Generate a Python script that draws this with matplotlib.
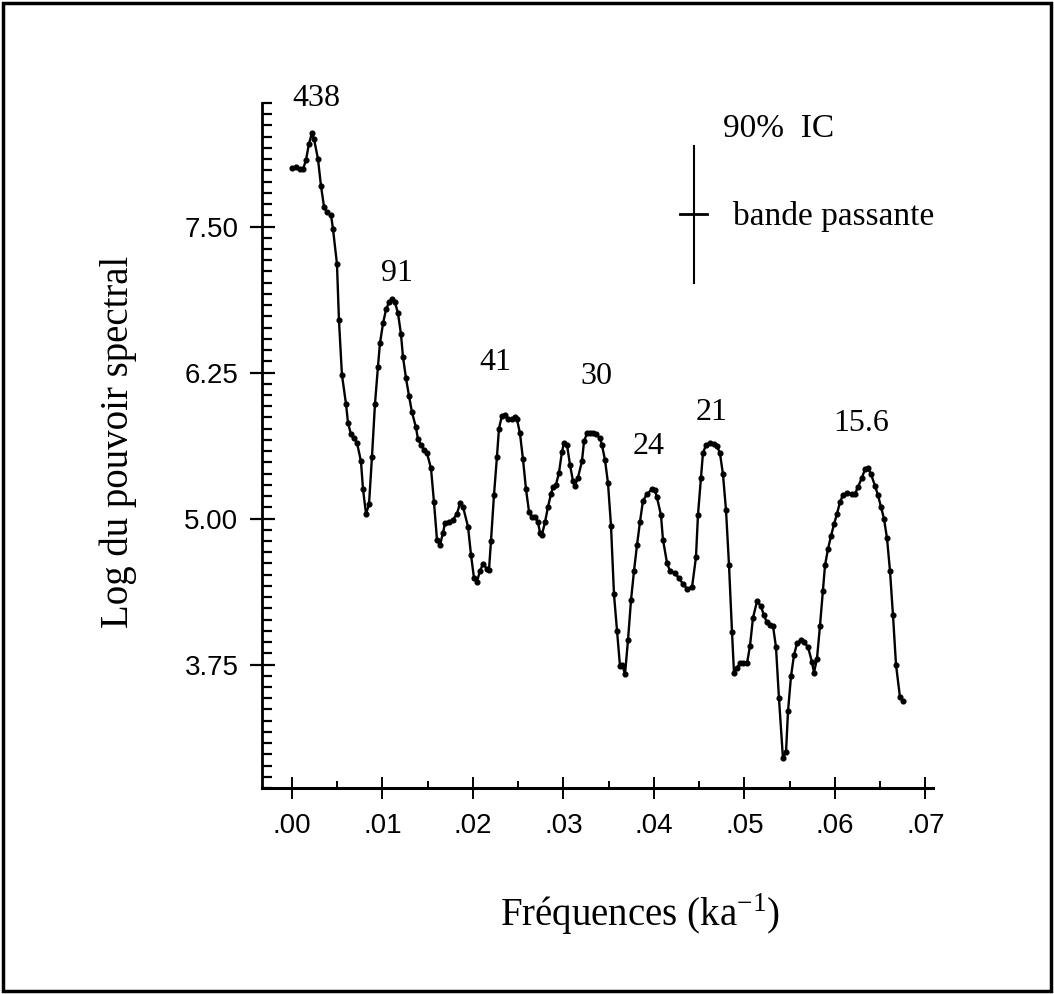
import matplotlib.pyplot as plt
import numpy as np
from matplotlib.ticker import MultipleLocator, FixedLocator
from matplotlib.patches import Rectangle

# spectre (fréquence en ka-1, log du pouvoir spectral)
freq = [0.0, 0.00044, 0.00088, 0.00122, 0.00155, 0.00188, 0.00221, 0.00243, 0.00287, 0.00320,
        0.00354, 0.00387, 0.00431, 0.00453, 0.00497, 0.00519, 0.00552, 0.00597, 0.00619, 0.00652,
        0.00685, 0.00718, 0.00762, 0.00785, 0.00818, 0.00851, 0.00884, 0.00917, 0.00950, 0.00972,
        0.01006, 0.01039, 0.01072, 0.01105, 0.01138, 0.01171, 0.01204, 0.01227, 0.01260, 0.01293,
        0.01326, 0.01370, 0.01392, 0.01425, 0.01459, 0.01492, 0.01536, 0.01569, 0.01602, 0.01635,
        0.01669, 0.01691, 0.01735, 0.01779, 0.01823, 0.01856, 0.01890, 0.01945, 0.01978, 0.02011,
        0.02044, 0.02077, 0.02110, 0.02155, 0.02177, 0.02199, 0.02232, 0.02265, 0.02287, 0.02320,
        0.02354, 0.02387, 0.02431, 0.02464, 0.02486, 0.02519, 0.02552, 0.02586, 0.02619, 0.02652,
        0.02685, 0.02718, 0.02740, 0.02762, 0.02796, 0.02829, 0.02862, 0.02884, 0.02917, 0.02950,
        0.02983, 0.03006, 0.03039, 0.03072, 0.03105, 0.03127, 0.03160, 0.03204, 0.03227, 0.03260,
        0.03293, 0.03326, 0.03359, 0.03403, 0.03425, 0.03459, 0.03492, 0.03525, 0.03558, 0.03591,
        0.03624, 0.03646, 0.03680, 0.03713, 0.03746, 0.03779, 0.03812, 0.03845, 0.03878, 0.03923,
        0.03978, 0.04011, 0.04033, 0.04077, 0.04099, 0.04144, 0.04177, 0.04232, 0.04276, 0.04320,
        0.04365, 0.04420, 0.04464, 0.04486, 0.04519, 0.04541, 0.04575, 0.04619, 0.04663, 0.04696,
        0.04729, 0.04762, 0.04796, 0.04829, 0.04862, 0.04884, 0.04917, 0.04950, 0.04983, 0.05028,
        0.05061, 0.05094, 0.05138, 0.05182, 0.05215, 0.05249, 0.05282, 0.05315, 0.05348, 0.05381,
        0.05425, 0.05459, 0.05481, 0.05514, 0.05547, 0.05580, 0.05624, 0.05657, 0.05702, 0.05746,
        0.05768, 0.05801, 0.05834, 0.05867, 0.05890, 0.05923, 0.05956, 0.05989, 0.06022, 0.06055,
        0.06088, 0.06133, 0.06188, 0.06221, 0.06254, 0.06298, 0.06331, 0.06365, 0.06398, 0.06442,
        0.06475, 0.06508, 0.06541, 0.06575, 0.06608, 0.06641, 0.06674, 0.06718, 0.06751]

log_power = [8.00, 8.01, 7.99, 7.99, 8.07, 8.21, 8.30, 8.25, 8.08, 7.85,
             7.67, 7.62, 7.60, 7.48, 7.18, 6.70, 6.23, 5.98, 5.82, 5.72,
             5.69, 5.65, 5.49, 5.25, 5.04, 5.12, 5.53, 5.98, 6.30, 6.50,
             6.67, 6.79, 6.85, 6.88, 6.85, 6.76, 6.58, 6.38, 6.20, 6.05,
             5.91, 5.78, 5.68, 5.63, 5.59, 5.56, 5.43, 5.14, 4.82, 4.77,
             4.88, 4.96, 4.97, 4.99, 5.04, 5.13, 5.10, 4.93, 4.69, 4.49,
             4.46, 4.55, 4.61, 4.57, 4.56, 4.81, 5.20, 5.53, 5.77, 5.88,
             5.89, 5.85, 5.85, 5.87, 5.85, 5.73, 5.51, 5.25, 5.06, 5.01,
             5.01, 4.97, 4.88, 4.86, 4.97, 5.10, 5.21, 5.27, 5.29, 5.39,
             5.57, 5.65, 5.63, 5.46, 5.32, 5.28, 5.35, 5.49, 5.66, 5.73,
             5.73, 5.73, 5.72, 5.69, 5.63, 5.50, 5.30, 4.94, 4.35, 4.04,
             3.74, 3.75, 3.67, 3.96, 4.30, 4.55, 4.77, 4.97, 5.15, 5.21,
             5.25, 5.24, 5.18, 5.03, 4.82, 4.62, 4.55, 4.53, 4.49, 4.44,
             4.40, 4.41, 4.67, 5.03, 5.35, 5.56, 5.63, 5.65, 5.64, 5.62,
             5.56, 5.38, 5.07, 4.60, 4.03, 3.68, 3.72, 3.76, 3.76, 3.76,
             3.91, 4.15, 4.29, 4.25, 4.17, 4.11, 4.09, 4.08, 3.90, 3.46,
             2.95, 3.00, 3.35, 3.65, 3.83, 3.93, 3.96, 3.94, 3.90, 3.77,
             3.68, 3.80, 4.08, 4.38, 4.60, 4.74, 4.85, 4.95, 5.04, 5.14,
             5.20, 5.22, 5.21, 5.21, 5.27, 5.35, 5.42, 5.43, 5.38, 5.28,
             5.20, 5.10, 5.00, 4.83, 4.55, 4.17, 3.75, 3.47, 3.44]

# périodes (ka) des pics
peak_labels = ['438', '91', '41', '30', '24', '21', '15.6']
peak_x = [0.00265, 0.0116, 0.0225, 0.0336, 0.0394, 0.0464, 0.0629]
peak_y = [8.60, 7.10, 6.34, 6.22, 5.62, 5.91, 5.81]

xticks = [0.00, 0.01, 0.02, 0.03, 0.04, 0.05, 0.06, 0.07]
xtick_labels = ['.00', '.01', '.02', '.03', '.04', '.05', '.06', '.07']
yticks = [3.75, 5.00, 6.25, 7.50]
ytick_labels = ['3.75', '5.00', '6.25', '7.50']

plt.rcParams['font.family'] = 'Liberation Serif'

fig = plt.figure(figsize=(10.54, 9.94), dpi=100)
ax = fig.add_axes([0.2486, 0.2072, 0.6366, 0.6892])

ax.plot(freq, log_power, color='black', lw=1.7, marker='o', ms=3.4, clip_on=False)

step = 1.25 / 13
ax.set_xlim(-0.00331, 0.07083)
ax.set_ylim(3.75 - 11 * step, 7.50 + 11 * step)

ax.spines['top'].set_visible(False)
ax.spines['right'].set_visible(False)
ax.spines['left'].set_linewidth(2)
ax.spines['bottom'].set_linewidth(2.2)

ax.xaxis.set_major_locator(FixedLocator(xticks))
ax.set_xticklabels(xtick_labels)
ax.xaxis.set_minor_locator(MultipleLocator(0.005))
ax.yaxis.set_major_locator(FixedLocator(yticks))
ax.set_yticklabels(ytick_labels)
ax.yaxis.set_minor_locator(MultipleLocator(step))

ax.tick_params(axis='y', which='major', direction='inout', length=18, width=1.6, pad=8)
ax.tick_params(axis='y', which='minor', direction='in', length=7, width=1.6)
ax.tick_params(axis='x', which='major', direction='inout', length=16, width=1.4, pad=10)
ax.tick_params(axis='x', which='minor', direction='in', length=5, width=1.4)
for lab in ax.get_xticklabels() + ax.get_yticklabels():
    lab.set_fontfamily('Liberation Sans')
    lab.set_fontsize(20)

for lab, px, py in zip(peak_labels, peak_x, peak_y):
    ax.text(px, py, lab, fontsize=23, ha='center', va='center', clip_on=False)

# légende : intervalle de confiance et bande passante
ax.plot([0.0444, 0.0444], [7.02, 8.19], color='black', lw=1.5)
ax.plot([0.0429, 0.0459], [7.61, 7.61], color='black', lw=2)
ax.text(0.0476, 8.34, '90%  IC', fontsize=24, ha='left', va='center')
ax.text(0.0487, 7.59, 'bande passante', fontsize=24, ha='left', va='center')

fig.text(0.607, 0.08, 'Fréquences (ka$^{\\mathregular{-1}}$)', fontsize=28,
         ha='center', va='center')
fig.text(0.112, 0.555, 'Log du pouvoir spectral', fontsize=28, rotation=90,
         ha='center', va='center')

fig.patches.append(Rectangle((0.003, 0.003), 0.994, 0.994, transform=fig.transFigure,
                             fill=False, edgecolor='black', lw=2.5))

fig.savefig('out.png', dpi=100)
